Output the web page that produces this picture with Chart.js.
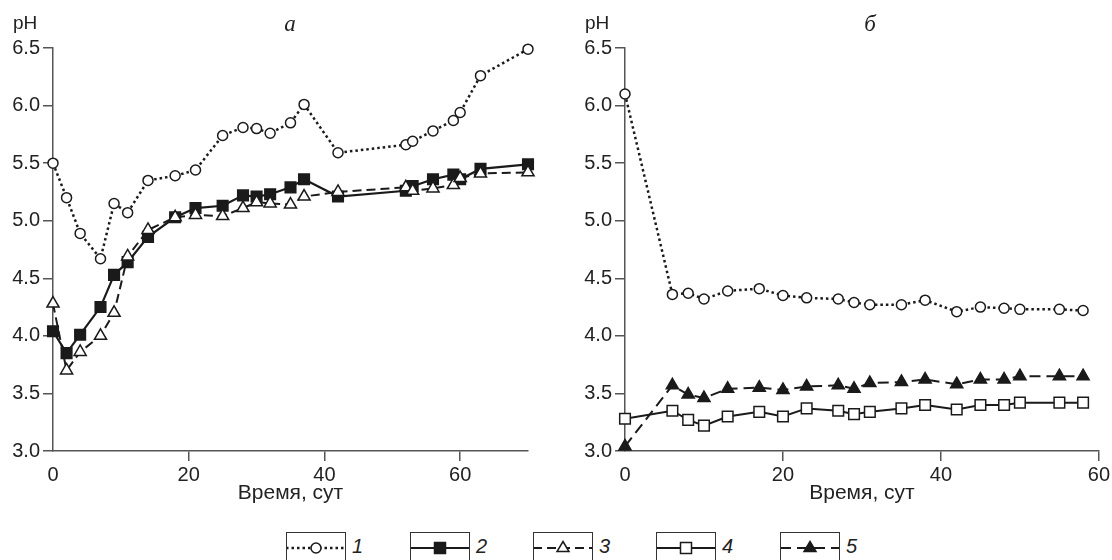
<!DOCTYPE html>
<html lang="ru">
<head>
<meta charset="utf-8">
<title>pH</title>
<script src="https://cdn.jsdelivr.net/npm/chart.js@4/dist/chart.umd.min.js"></script>
<style>
    html, body { margin: 0; padding: 0; background: #fff; }
    body { width: 1112px; height: 560px; position: relative; overflow: hidden; font-family: 'Liberation Sans', Arial, sans-serif; color: #222; }
    canvas { position: absolute; top: 0; }
    .lbl { position: absolute; font-size: 19px; line-height: 1; }
    .panel { position: absolute; font-family: 'Liberation Serif', serif; font-style: italic; font-size: 23px; line-height: 1; transform: translateX(-50%); }
    .key { position: absolute; top: 532px; width: 60px; height: 40px; border: 1.5px solid #333; border-bottom: none; box-sizing: border-box; }
    .key svg { position: absolute; left: 0; top: 0; }
    .keynum { position: absolute; top: 536px; font-style: italic; font-size: 20px; line-height: 1; }
</style>
</head>
<body>
<canvas id="chartA" width="556" height="506" style="left:0"></canvas>
<canvas id="chartB" width="556" height="506" style="left:556px"></canvas>

<div class="lbl" style="left:13px;top:13px">pH</div>
<div class="lbl" style="left:585px;top:13px">pH</div>
<div class="panel" style="left:290px;top:12px">а</div>
<div class="panel" style="left:870px;top:12px">б</div>

<div id="legend"></div>

<script>
// panel a
const daysA = [0, 2, 4, 7, 9, 11, 14, 18, 21, 25, 28, 30, 32, 35, 37, 42, 52, 53, 56, 59, 60, 63, 70];
const ph1A = [5.50, 5.20, 4.89, 4.67, 5.15, 5.07, 5.35, 5.39, 5.44, 5.74, 5.81, 5.80, 5.76, 5.85, 6.01, 5.59, 5.66, 5.69, 5.78, 5.87, 5.94, 6.26, 6.49];
const ph2A = [4.04, 3.85, 4.01, 4.25, 4.53, 4.64, 4.86, 5.03, 5.11, 5.13, 5.22, 5.21, 5.23, 5.29, 5.36, 5.21, 5.26, 5.30, 5.36, 5.40, 5.36, 5.45, 5.49];
const ph3A = [4.28, 3.70, 3.86, 4.00, 4.20, 4.69, 4.92, 5.03, 5.05, 5.04, 5.11, 5.16, 5.15, 5.14, 5.21, 5.25, 5.29, 5.26, 5.28, 5.31, 5.37, 5.41, 5.42];

// panel б
const daysB = [0, 6, 8, 10, 13, 17, 20, 23, 27, 29, 31, 35, 38, 42, 45, 48, 50, 55, 58];
const ph1B = [6.10, 4.36, 4.37, 4.32, 4.39, 4.41, 4.35, 4.33, 4.32, 4.29, 4.27, 4.27, 4.31, 4.21, 4.25, 4.24, 4.23, 4.23, 4.22];
const ph4B = [3.28, 3.35, 3.27, 3.22, 3.30, 3.34, 3.30, 3.37, 3.35, 3.32, 3.34, 3.37, 3.40, 3.36, 3.40, 3.40, 3.42, 3.42, 3.42];
const ph5B = [3.04, 3.57, 3.49, 3.46, 3.54, 3.55, 3.53, 3.56, 3.57, 3.54, 3.59, 3.60, 3.62, 3.58, 3.62, 3.62, 3.65, 3.65, 3.65];

const xTitle = 'Время, сут';
const seriesNames = ['1', '2', '3', '4', '5'];

const ink = '#1a1a1a';
const axisColor = '#555';
const font = "'Liberation Sans', Arial, sans-serif";

const styles = {
    1: { borderDash: [2.5, 3], borderWidth: 2.5, pointStyle: 'circle', pointRadius: 5, fill: '#fff' },
    2: { borderDash: [], borderWidth: 2.2, pointStyle: 'rect', pointRadius: 7.5, fill: ink },
    3: { borderDash: [9, 5], borderWidth: 2, pointStyle: 'triangle', pointRadius: 7, fill: '#fff' },
    4: { borderDash: [], borderWidth: 2, pointStyle: 'rect', pointRadius: 7.5, fill: '#fff' },
    5: { borderDash: [11, 6], borderWidth: 2, pointStyle: 'triangle', pointRadius: 7, fill: ink },
};

function series(n, days, values) {
    const s = styles[n];
    return {
        label: seriesNames[n - 1],
        data: days.map((d, i) => ({ x: d, y: values[i] })),
        showLine: true,
        tension: 0,
        clip: false,
        borderColor: ink,
        borderWidth: s.borderWidth,
        borderDash: s.borderDash,
        pointStyle: s.pointStyle,
        pointRadius: s.pointRadius,
        pointHoverRadius: s.pointRadius,
        pointBorderWidth: 1.5,
        pointBorderColor: ink,
        pointBackgroundColor: s.fill,
    };
}

function makeChart(id, datasets, xMax, axisWidth, padRight) {
    return new Chart(document.getElementById(id), {
        type: 'scatter',
        data: { datasets },
        options: {
            responsive: false,
            animation: false,
            layout: { padding: { top: 48, right: padRight, left: 0, bottom: 0 } },
            plugins: { legend: { display: false }, tooltip: { enabled: false } },
            scales: {
                x: {
                    type: 'linear',
                    min: 0,
                    max: xMax,
                    afterFit: (scale) => { scale.height = 55; },
                    ticks: {
                        stepSize: 20,
                        includeBounds: false,
                        color: '#222',
                        padding: 2,
                        maxRotation: 0,
                        font: { family: font, size: 20 },
                    },
                    grid: {
                        drawOnChartArea: false,
                        tickLength: 10,
                        lineWidth: 1.5,
                        color: (ctx) => (ctx.tick && ctx.tick.value === 0 ? 'rgba(0,0,0,0)' : axisColor),
                    },
                    border: { color: axisColor, width: 1.5 },
                    title: {
                        display: true,
                        text: xTitle,
                        color: '#222',
                        padding: { top: 0, bottom: 0 },
                        font: { family: font, size: 21 },
                    },
                },
                y: {
                    min: 3,
                    max: 6.5,
                    afterFit: (scale) => { scale.width = axisWidth; },
                    ticks: {
                        stepSize: 0.5,
                        color: '#222',
                        padding: 3,
                        callback: (v) => v.toFixed(1),
                        font: { family: font, size: 20 },
                    },
                    grid: { drawOnChartArea: false, tickLength: 10, lineWidth: 1.5, color: axisColor },
                    border: { color: axisColor, width: 1.5 },
                },
            },
        },
    });
}

makeChart('chartA', [
    series(3, daysA, ph3A),
    series(2, daysA, ph2A),
    series(1, daysA, ph1A),
], 70, 53, 28);

makeChart('chartB', [
    series(4, daysB, ph4B),
    series(5, daysB, ph5B),
    series(1, daysB, ph1B),
], 60, 69, 13);

// legend: small boxes with line sample and marker
const keyLeft = [286, 410, 533, 656, 780];

function markerSvg(n) {
    const s = styles[n];
    const fill = s.fill;
    if (s.pointStyle === 'circle') {
        return `<circle cx="30" cy="15" r="5" fill="${fill}" stroke="${ink}" stroke-width="1.5"/>`;
    }
    if (s.pointStyle === 'rect') {
        return `<rect x="24.5" y="9.5" width="11" height="11" fill="${fill}" stroke="${ink}" stroke-width="1.5"/>`;
    }
    return `<polygon points="30,8.5 36,18.5 24,18.5" fill="${fill}" stroke="${ink}" stroke-width="1.5"/>`;
}

const legend = document.getElementById('legend');
seriesNames.forEach((name, i) => {
    const n = i + 1;
    const s = styles[n];
    const dash = s.borderDash.length ? `stroke-dasharray="${s.borderDash.join(' ')}"` : '';
    const box = document.createElement('div');
    box.className = 'key';
    box.style.left = keyLeft[i] + 'px';
    box.innerHTML = `<svg width="58" height="30" viewBox="1 0 58 30">
        <line x1="0" y1="15" x2="60" y2="15" stroke="${ink}" stroke-width="${s.borderWidth}" ${dash}/>
        ${markerSvg(n)}
    </svg>`;
    legend.appendChild(box);

    const num = document.createElement('div');
    num.className = 'keynum';
    num.style.left = (keyLeft[i] + 66) + 'px';
    num.textContent = name;
    legend.appendChild(num);
});
</script>
</body>
</html>
